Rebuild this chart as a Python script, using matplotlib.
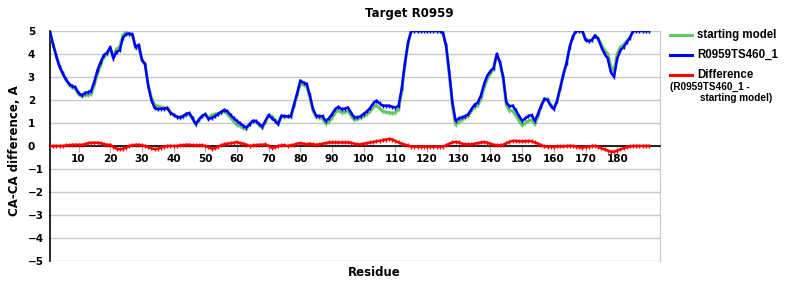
import numpy as np
import matplotlib
matplotlib.use('Agg')
import matplotlib.pyplot as plt
from matplotlib.lines import Line2D

# ---- data (residues 1..190) ----
residues = list(range(1, 191))

model = [
    4.95, 4.40, 3.90, 3.45, 3.15, 2.90, 2.70, 2.60, 2.55, 2.30,
    2.20, 2.30, 2.33, 2.40, 2.80, 3.30, 3.65, 3.95, 4.05, 4.30,
    3.80, 4.10, 4.15, 4.70, 4.85, 4.88, 4.85, 4.30, 4.40, 3.75,
    3.55, 2.60, 2.00, 1.65, 1.60, 1.62, 1.62, 1.65, 1.45, 1.35,
    1.27, 1.24, 1.30, 1.40, 1.43, 1.20, 0.95, 1.15, 1.31, 1.38,
    1.17, 1.22, 1.28, 1.38, 1.48, 1.57, 1.50, 1.34, 1.20, 1.09,
    0.98, 0.88, 0.80, 0.95, 1.09, 1.09, 0.95, 0.84, 1.10, 1.34,
    1.20, 1.09, 0.95, 1.31, 1.30, 1.28, 1.29, 1.80, 2.30, 2.84,
    2.75, 2.69, 2.20, 1.60, 1.31, 1.30, 1.29, 1.09, 1.20, 1.38,
    1.60, 1.70, 1.60, 1.62, 1.67, 1.45, 1.24, 1.24, 1.29, 1.40,
    1.50, 1.65, 1.85, 1.97, 1.85, 1.75, 1.75, 1.75, 1.70, 1.67,
    1.75, 2.50, 3.60, 4.50, 5.00, 5.00, 5.00, 5.00, 5.00, 5.00,
    5.00, 5.00, 5.00, 5.00, 4.90, 4.37, 3.20, 1.89, 1.09, 1.20,
    1.24, 1.29, 1.38, 1.60, 1.80, 1.89, 2.20, 2.70, 3.06, 3.25,
    3.40, 4.00, 3.64, 3.00, 1.90, 1.72, 1.75, 1.55, 1.30, 1.09,
    1.20, 1.30, 1.34, 1.09, 1.40, 1.75, 2.04, 2.00, 1.75, 1.60,
    1.95, 2.50, 3.10, 3.60, 4.30, 4.75, 5.00, 5.00, 5.00, 4.60,
    4.55, 4.60, 4.80, 4.65, 4.30, 4.00, 3.80, 3.20, 3.00, 3.80,
    4.15, 4.30, 4.50, 4.70, 5.00, 5.00, 5.00, 5.00, 5.00, 5.00,
]

start = [
    4.95, 4.40, 3.90, 3.45, 3.15, 2.88, 2.67, 2.55, 2.50, 2.25,
    2.15, 2.23, 2.21, 2.26, 2.66, 3.16, 3.53, 3.87, 4.00, 4.25,
    3.85, 4.22, 4.29, 4.82, 4.92, 4.88, 4.82, 4.25, 4.35, 3.73,
    3.55, 2.65, 2.10, 1.79, 1.72, 1.69, 1.65, 1.65, 1.45, 1.35,
    1.27, 1.22, 1.27, 1.35, 1.38, 1.17, 0.93, 1.12, 1.28, 1.38,
    1.22, 1.34, 1.38, 1.41, 1.45, 1.50, 1.40, 1.22, 1.06, 0.92,
    0.86, 0.78, 0.75, 0.95, 1.07, 1.06, 0.90, 0.79, 1.03, 1.34,
    1.28, 1.14, 0.95, 1.29, 1.27, 1.28, 1.26, 1.75, 2.20, 2.72,
    2.65, 2.62, 2.10, 1.53, 1.26, 1.23, 1.19, 0.97, 1.05, 1.23,
    1.45, 1.55, 1.45, 1.47, 1.52, 1.31, 1.14, 1.17, 1.22, 1.30,
    1.38, 1.50, 1.68, 1.77, 1.63, 1.50, 1.47, 1.45, 1.42, 1.45,
    1.60, 2.40, 3.55, 4.48, 5.00, 5.00, 5.00, 5.00, 5.00, 5.00,
    5.00, 5.00, 5.00, 5.00, 4.93, 4.34, 3.10, 1.74, 0.92, 1.05,
    1.14, 1.22, 1.31, 1.53, 1.70, 1.77, 2.05, 2.53, 2.92, 3.15,
    3.35, 3.97, 3.61, 2.95, 1.78, 1.54, 1.53, 1.33, 1.10, 0.89,
    1.00, 1.08, 1.14, 0.94, 1.30, 1.72, 2.06, 2.03, 1.78, 1.63,
    1.97, 2.52, 3.12, 3.60, 4.30, 4.75, 5.00, 5.00, 5.00, 4.65,
    4.58, 4.60, 4.80, 4.68, 4.40, 4.15, 4.00, 3.45, 3.25, 4.00,
    4.30, 4.40, 4.55, 4.72, 5.00, 5.00, 5.00, 5.00, 5.00, 5.00,
]

diff = [
    0.00, 0.00, 0.00, 0.00, 0.00, 0.02, 0.03, 0.05, 0.05, 0.05,
    0.05, 0.07, 0.12, 0.14, 0.14, 0.14, 0.12, 0.08, 0.05, 0.05,
    -0.05, -0.12, -0.14, -0.12, -0.07, 0.00, 0.03, 0.05, 0.05, 0.02,
    0.00, -0.05, -0.10, -0.14, -0.12, -0.07, -0.03, 0.00, 0.00, 0.00,
    0.00, 0.02, 0.03, 0.05, 0.05, 0.03, 0.02, 0.03, 0.03, 0.00,
    -0.05, -0.12, -0.10, -0.03, 0.03, 0.07, 0.10, 0.12, 0.14, 0.17,
    0.12, 0.10, 0.05, 0.00, 0.02, 0.03, 0.05, 0.05, 0.07, 0.00,
    -0.08, -0.05, 0.00, 0.02, 0.03, 0.00, 0.03, 0.05, 0.10, 0.12,
    0.10, 0.07, 0.10, 0.07, 0.05, 0.07, 0.10, 0.12, 0.15, 0.15,
    0.15, 0.15, 0.15, 0.15, 0.15, 0.14, 0.10, 0.07, 0.07, 0.10,
    0.12, 0.15, 0.17, 0.20, 0.22, 0.25, 0.28, 0.30, 0.28, 0.22,
    0.15, 0.10, 0.05, 0.02, -0.03, -0.03, -0.03, -0.03, -0.03, -0.03,
    -0.03, -0.03, -0.03, -0.03, -0.03, 0.03, 0.10, 0.15, 0.17, 0.15,
    0.10, 0.07, 0.07, 0.07, 0.10, 0.12, 0.15, 0.17, 0.14, 0.10,
    0.05, 0.03, 0.03, 0.05, 0.12, 0.18, 0.22, 0.22, 0.20, 0.20,
    0.20, 0.22, 0.20, 0.15, 0.10, 0.03, -0.02, -0.03, -0.03, -0.03,
    -0.02, -0.02, -0.02, 0.00, 0.00, 0.00, -0.03, -0.05, -0.07, -0.05,
    -0.03, 0.00, 0.00, -0.03, -0.10, -0.15, -0.20, -0.25, -0.25, -0.20,
    -0.15, -0.10, -0.05, -0.02, 0.00, 0.00, 0.00, 0.00, 0.00, 0.00,
]

xticks = list(range(10, 190, 10))
yticks = list(range(-5, 6))

GREEN = '#62c862'
BLUE = '#0000ff'
RED = '#ff0000'

fig = plt.figure(figsize=(8, 3), dpi=100)
ax = fig.add_axes([0.0625, 0.13, 0.7625, 0.767])

ax.plot(residues, start, color=GREEN, linewidth=2.2, marker='|',
        markersize=2.5, markeredgewidth=1, zorder=3)
ax.plot(residues, model, color=BLUE, linewidth=1.8, marker='|',
        markersize=2.5, markeredgewidth=1, zorder=4)
ax.plot(residues, diff, color=RED, linewidth=1.8, marker='|',
        markersize=2.5, markeredgewidth=1, zorder=4)

ax.set_xlim(1, 193.5)
ax.set_ylim(-5, 5)
ax.set_yticks(yticks)
ax.set_xticks(xticks)
ax.yaxis.grid(True, color='#c8c8c8', linewidth=1)
ax.set_axisbelow(True)

ax.spines['top'].set_visible(False)
ax.spines['right'].set_color('#c8c8c8')
ax.spines['left'].set_color('black')
ax.spines['left'].set_linewidth(1.2)
ax.spines['bottom'].set_position(('data', 0))
ax.spines['bottom'].set_color('black')
ax.spines['bottom'].set_linewidth(1.2)

ax.tick_params(axis='x', direction='out', length=4, color='#b0b0b0',
               labelsize=7.5, pad=2)
ax.tick_params(axis='y', length=0, labelsize=7.5, pad=16)
for lbl in ax.get_xticklabels():
    lbl.set_fontweight('bold')
for lbl in ax.get_yticklabels():
    lbl.set_fontweight('bold')
    lbl.set_horizontalalignment('left')

ax.set_ylabel('CA-CA difference, A', fontsize=8.5, fontweight='bold')
ax.yaxis.set_label_coords(-0.047, 0.48)
fig.text(0.468, 0.09, 'Residue', ha='center', va='center',
         fontsize=8.5, fontweight='bold')
fig.text(0.512, 0.955, 'Target R0959', ha='center', va='center',
         fontsize=8.5, fontweight='bold')

# legend drawn in figure coords
leg_font = dict(family='Liberation Sans', fontweight='bold')
legend_rows = [('starting model', GREEN, 35), ('R0959TS460_1', BLUE, 55),
               ('Difference', RED, 75)]
for text, col, ypix in legend_rows:
    yf = 1 - ypix / 300
    fig.add_artist(Line2D([670 / 800, 692 / 800], [yf, yf], color=col,
                          linewidth=2.2, transform=fig.transFigure))
    fig.text(697 / 800, yf, text, ha='left', va='center', fontsize=8.3,
             **leg_font)
fig.text(670 / 800, 1 - 87 / 300, '(R0959TS460_1 -', ha='left', va='center',
         fontsize=7.2, **leg_font)
fig.text(700 / 800, 1 - 98 / 300, 'starting model)', ha='left', va='center',
         fontsize=7.2, **leg_font)

fig.savefig('out.png', dpi=100, facecolor='white')
